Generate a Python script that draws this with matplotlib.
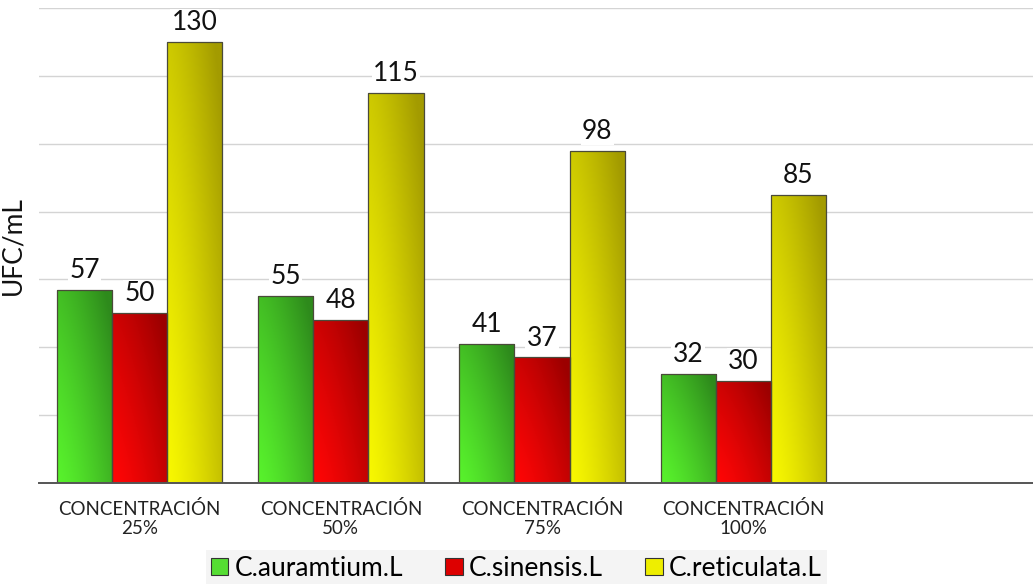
import numpy as np
import matplotlib.pyplot as plt
from matplotlib.colors import LinearSegmentedColormap
from matplotlib.patches import Patch

plt.rcParams['font.family'] = ['Lato', 'DejaVu Sans']

categories = ['CONCENTRACIÓN\n25%', 'CONCENTRACIÓN\n50%',
              'CONCENTRACIÓN\n75%', 'CONCENTRACIÓN\n100%']
series = ['C.auramtium.L', 'C.sinensis.L', 'C.reticulata.L']
auramtium = [57, 55, 41, 32]
sinensis = [50, 48, 37, 30]
reticulata = [130, 115, 98, 85]

# light -> dark shade for each series, plus the flat legend colour
shades = [('#58f22c', '#2e8a1c'), ('#ff0606', '#9c0000'), ('#f8f800', '#a39b00')]
legend_colors = ['#55dd33', '#dd0000', '#eeee00']

fig = plt.figure(figsize=(10.33, 5.84), dpi=100)
ax = fig.add_axes([39 / 1033, 101 / 584, 1 - 39 / 1033, 475 / 584])

x = np.arange(len(categories))
w = 0.274
values = [auramtium, sinensis, reticulata]

# diagonal gradient image used to fill each bar
gx, gy = np.meshgrid(np.linspace(0, 1, 60), np.linspace(0, 1, 200))
grad = np.clip(0.6 * gx ** 1.3 + 0.5 * gy ** 1.2, 0, 1)

for i, vals in enumerate(values):
    cmap = LinearSegmentedColormap.from_list('s%d' % i, list(shades[i]))
    bars = ax.bar(x + (i - 1) * w, vals, w, facecolor='none',
                  edgecolor='#4a4a3a', linewidth=0.9, zorder=3)
    for b, v in zip(bars, vals):
        x0, x1 = b.get_x(), b.get_x() + b.get_width()
        im = ax.imshow(grad, cmap=cmap, origin='lower', aspect='auto',
                       extent=(x0, x1, 0, v), zorder=2, interpolation='bilinear')
        im.set_clip_path(b)
        ax.annotate(str(v), (b.get_x() + b.get_width() / 2, v),
                    xytext=(0, 5), textcoords='offset points',
                    ha='center', va='bottom', fontsize=19, color='#111111',
                    bbox=dict(boxstyle='square,pad=0.05', fc='white', ec='none'),
                    zorder=4)

ax.set_xlim(-0.5, 4.44)
ax.set_ylim(0, 140)
ax.set_yticks(np.arange(0, 141, 20))
ax.set_yticklabels([])
ax.tick_params(axis='y', length=0)
ax.tick_params(axis='x', length=0, pad=12)
ax.set_xticks(x)
ax.set_xticklabels(categories, fontsize=13.5, color='#222222', linespacing=1.15)
ax.grid(axis='y', color='#d4d4d4', linewidth=1, zorder=0)
ax.set_axisbelow(True)
for s in ['top', 'right', 'left']:
    ax.spines[s].set_visible(False)
ax.spines['bottom'].set_color('#555555')
ax.spines['bottom'].set_linewidth(1.4)
ax.spines['bottom'].set_zorder(5)

ax.set_ylabel('UFC/mL', fontsize=19, color='#111111')
ax.yaxis.set_label_coords(-0.014, 0.5)

handles = [Patch(facecolor=c, edgecolor='#333333', linewidth=0.8) for c in legend_colors]
leg = fig.legend(handles, series, loc='center', bbox_to_anchor=(0.5, 0.027),
                 ncol=3, fontsize=19, frameon=True, fancybox=False,
                 facecolor='#f4f4f4', edgecolor='none', framealpha=1,
                 handlelength=0.65, handleheight=0.65, handletextpad=0.25,
                 columnspacing=1.6, borderpad=0.2, borderaxespad=0)

fig.savefig('out.png', dpi=100, facecolor='white')
